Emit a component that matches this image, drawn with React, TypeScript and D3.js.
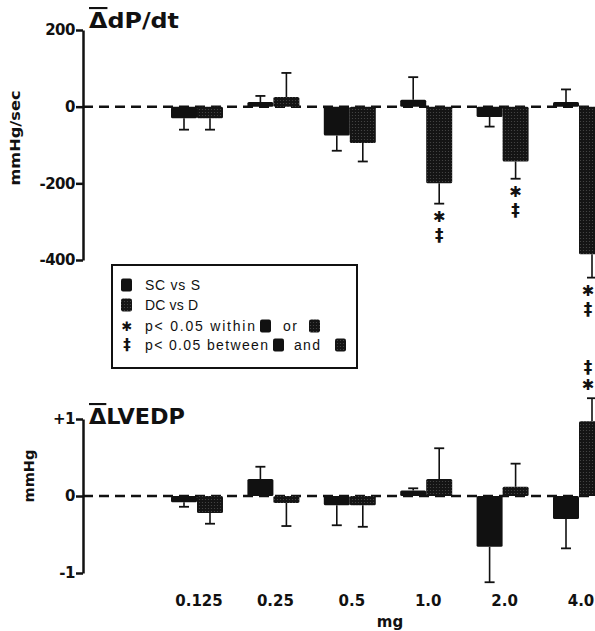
import React, { useRef, useEffect } from 'react';
import * as d3 from 'd3';

// doses (mg) and the two comparisons
const doses = ['0.125', '0.25', '0.5', '1.0', '2.0', '4.0'];
const groups = ['SC', 'DC'];
const legendLabels = ['SC vs S', 'DC vs D'];

// mean change in dP/dt, mmHg/sec
const dpdtSC = [-30, 12, -75, 18, -27, 12];
const dpdtSCSem = [30, 16, 40, 59, 25, 33];
const dpdtDC = [-30, 25, -95, -200, -143, -385];
const dpdtDCSem = [30, 63, 48, 53, 45, 61];
const dpdtDCSig = ['', '', '', '*‡', '*‡', '*‡'];
const dpdtTicks = [200, 0, -200, -400];
const dpdtTickLabels = ['200', '0', '-200', '-400'];

// mean change in LVEDP, mmHg
const lvedpSC = [-0.08, 0.22, -0.12, 0.07, -0.66, -0.3];
const lvedpSCSem = [0.06, 0.16, 0.26, 0.03, 0.46, 0.38];
const lvedpDC = [-0.22, -0.09, -0.12, 0.22, 0.12, 0.97];
const lvedpDCSem = [0.14, 0.3, 0.28, 0.4, 0.3, 0.3];
const lvedpDCSig = ['', '', '', '', '', '*‡'];
const lvedpTicks = [1, 0, -1];
const lvedpTickLabels = ['+1', '0', '-1'];

const FONT = "'DejaVu Sans', sans-serif";
const INK = '#111';

const App = () => {
  const ref = useRef(null);

  useEffect(() => {
    const svg = d3.select(ref.current);
    svg.selectAll('*').remove();

    const width = 595;
    const axisX = 83;

    // stipple for the DC bars
    const defs = svg.append('defs');
    const pat = defs
      .append('pattern')
      .attr('id', 'stipple')
      .attr('width', 3)
      .attr('height', 3)
      .attr('patternUnits', 'userSpaceOnUse');
    pat.append('rect').attr('width', 3).attr('height', 3).attr('fill', '#141414');
    pat.append('circle').attr('cx', 1.5).attr('cy', 1.5).attr('r', 0.6).attr('fill', '#4a4a4a');

    const x = d3.scalePoint().domain(doses).range([197, 579]);
    const inner = d3.scaleBand().domain(groups).range([-26, 26]);

    const fillFor = (g) => (g === 'SC' ? INK : 'url(#stipple)');

    const drawPanel = (p) => {
      const y = p.y;
      const panel = svg.append('g');

      // dashed zero line
      panel
        .append('line')
        .attr('x1', axisX)
        .attr('x2', width)
        .attr('y1', y(0))
        .attr('y2', y(0))
        .attr('stroke', INK)
        .attr('stroke-width', 2.5)
        .attr('stroke-dasharray', '10,6');

      groups.forEach((g) => {
        const vals = g === 'SC' ? p.sc : p.dc;
        const sems = g === 'SC' ? p.scSem : p.dcSem;
        const data = doses.map((d, i) => ({
          dose: d,
          v: vals[i],
          end: vals[i] + Math.sign(vals[i]) * sems[i],
          sig: g === 'DC' ? p.sig[i] : '',
        }));
        const cx = (d) => x(d.dose) + inner(g) + inner.bandwidth() / 2;

        // error bars
        panel
          .selectAll(null)
          .data(data)
          .enter()
          .append('line')
          .attr('x1', cx)
          .attr('x2', cx)
          .attr('y1', (d) => y(d.v))
          .attr('y2', (d) => y(d.end))
          .attr('stroke', INK)
          .attr('stroke-width', 1.6);
        panel
          .selectAll(null)
          .data(data)
          .enter()
          .append('line')
          .attr('x1', (d) => cx(d) - 5)
          .attr('x2', (d) => cx(d) + 5)
          .attr('y1', (d) => y(d.end))
          .attr('y2', (d) => y(d.end))
          .attr('stroke', INK)
          .attr('stroke-width', 1.8);

        // bars
        panel
          .selectAll(null)
          .data(data)
          .enter()
          .append('rect')
          .attr('x', (d) => x(d.dose) + inner(g))
          .attr('width', inner.bandwidth())
          .attr('y', (d) => y(Math.max(0, d.v)))
          .attr('height', (d) => Math.abs(y(d.v) - y(0)))
          .attr('fill', fillFor(g))
          .attr('rx', 1.5);

        // significance marks beyond the error bar (kept inside the frame)
        const sigData = data.filter((d) => d.sig);
        const dir = (d) => (d.v < 0 ? 1 : -1);
        const mx = (d) => Math.min(cx(d), width - 7);
        panel
          .selectAll(null)
          .data(sigData)
          .enter()
          .append('text')
          .attr('x', mx)
          .attr('y', (d) => y(d.end) + dir(d) * 13)
          .attr('text-anchor', 'middle')
          .attr('dominant-baseline', 'central')
          .attr('font-family', FONT)
          .attr('font-weight', 'bold')
          .attr('font-size', 15)
          .attr('fill', INK)
          .text('✱');
        panel
          .selectAll(null)
          .data(sigData)
          .enter()
          .append('text')
          .attr('x', mx)
          .attr('y', (d) => y(d.end) + dir(d) * 31)
          .attr('text-anchor', 'middle')
          .attr('dominant-baseline', 'central')
          .attr('font-family', FONT)
          .attr('font-weight', 'bold')
          .attr('font-size', 17)
          .attr('fill', INK)
          .text('‡');
      });

      // y axis
      const axis = d3
        .axisLeft(y)
        .tickValues(p.ticks)
        .tickFormat((d, i) => p.tickLabels[i])
        .tickSize(7)
        .tickSizeOuter(0)
        .tickPadding(1);
      const ag = panel.append('g').attr('transform', `translate(${axisX},0)`).call(axis);
      ag.select('.domain').attr('stroke', INK).attr('stroke-width', 2.5);
      ag.selectAll('.tick line').attr('stroke', INK).attr('stroke-width', 2.5);
      ag.selectAll('.tick text')
        .attr('fill', INK)
        .attr('font-family', FONT)
        .attr('font-weight', 'bold')
        .attr('font-size', 15)
        .attr('letter-spacing', -0.5);

      // title with overbar on delta
      const t = panel
        .append('text')
        .attr('x', 89)
        .attr('y', p.titleY)
        .attr('font-family', FONT)
        .attr('font-weight', 'bold')
        .attr('font-size', 21)
        .attr('fill', INK)
        .attr('textLength', p.titleLength)
        .attr('lengthAdjust', 'spacingAndGlyphs');
      t.append('tspan').style('text-decoration', 'overline').text('Δ');
      t.append('tspan').text(p.title);

      // y label
      panel
        .append('text')
        .attr('transform', `translate(${p.yLabelX},${p.yLabelY}) rotate(-90)`)
        .attr('text-anchor', 'middle')
        .attr('dominant-baseline', 'central')
        .attr('font-family', FONT)
        .attr('font-weight', 'bold')
        .attr('font-size', 14)
        .attr('fill', INK)
        .attr('textLength', p.yLabelLength)
        .attr('lengthAdjust', 'spacingAndGlyphs')
        .text(p.yLabel);
    };

    drawPanel({
      y: d3.scaleLinear().domain([-400, 200]).range([260, 30]),
      sc: dpdtSC,
      scSem: dpdtSCSem,
      dc: dpdtDC,
      dcSem: dpdtDCSem,
      sig: dpdtDCSig,
      ticks: dpdtTicks,
      tickLabels: dpdtTickLabels,
      title: 'dP/dt',
      titleY: 28,
      titleLength: 90,
      yLabel: 'mmHg/sec',
      yLabelX: 15,
      yLabelY: 138,
      yLabelLength: 95,
    });

    drawPanel({
      y: d3.scaleLinear().domain([-1, 1]).range([573, 419]),
      sc: lvedpSC,
      scSem: lvedpSCSem,
      dc: lvedpDC,
      dcSem: lvedpDCSem,
      sig: lvedpDCSig,
      ticks: lvedpTicks,
      tickLabels: lvedpTickLabels,
      title: 'LVEDP',
      titleY: 424,
      titleLength: 96,
      yLabel: 'mmHg',
      yLabelX: 29,
      yLabelY: 476,
      yLabelLength: 53,
    });

    // x labels
    svg
      .append('g')
      .selectAll('text')
      .data(doses)
      .enter()
      .append('text')
      .attr('x', (d) => x(d) + 2)
      .attr('y', 606)
      .attr('text-anchor', 'middle')
      .attr('font-family', FONT)
      .attr('font-weight', 'bold')
      .attr('font-size', 15)
      .attr('fill', INK)
      .text((d) => d);
    svg
      .append('text')
      .attr('x', 390)
      .attr('y', 627)
      .attr('text-anchor', 'middle')
      .attr('font-family', FONT)
      .attr('font-weight', 'bold')
      .attr('font-size', 15)
      .attr('fill', INK)
      .text('mg');

    // legend
    const lg = svg.append('g').attr('font-family', "'Liberation Sans', sans-serif").attr('font-size', 14).attr('fill', INK);
    lg.append('rect')
      .attr('x', 112)
      .attr('y', 265)
      .attr('width', 245)
      .attr('height', 103)
      .attr('fill', '#fff')
      .attr('stroke', INK)
      .attr('stroke-width', 2);
    const swatch = (sx, sy, g) =>
      lg.append('rect')
        .attr('x', sx)
        .attr('y', sy - 6.5)
        .attr('width', 11)
        .attr('height', 13)
        .attr('rx', 2)
        .attr('fill', fillFor(g));
    const label = (tx, ty, s, len) => {
      const el = lg.append('text').attr('x', tx).attr('y', ty).attr('dominant-baseline', 'central').text(s);
      if (len) el.attr('textLength', len).attr('lengthAdjust', 'spacing');
      return el;
    };
    const rows = [285, 305, 326, 345];
    groups.forEach((g, i) => {
      swatch(121, rows[i], g);
      label(145, rows[i], legendLabels[i], i === 0 ? 55 : 53);
    });
    lg.append('text')
      .attr('x', 127)
      .attr('y', rows[2])
      .attr('text-anchor', 'middle')
      .attr('dominant-baseline', 'central')
      .attr('font-family', FONT)
      .attr('font-weight', 'bold')
      .attr('font-size', 13)
      .text('✱');
    label(145, rows[2], 'p< 0.05  within', 110);
    swatch(260, rows[2], 'SC');
    label(283, rows[2], 'or', 14);
    swatch(309, rows[2], 'DC');
    lg.append('text')
      .attr('x', 127)
      .attr('y', rows[3])
      .attr('text-anchor', 'middle')
      .attr('dominant-baseline', 'central')
      .attr('font-family', FONT)
      .attr('font-weight', 'bold')
      .attr('font-size', 15)
      .text('‡');
    label(145, rows[3], 'p< 0.05  between', 123);
    swatch(273, rows[3], 'SC');
    label(294, rows[3], 'and', 26);
    swatch(335, rows[3], 'DC');
  }, []);

  return (
    <svg
      ref={ref}
      width={595}
      height={631}
      style={{ position: 'absolute', left: 0, top: 0, background: '#fff' }}
    />
  );
};

export default App;
